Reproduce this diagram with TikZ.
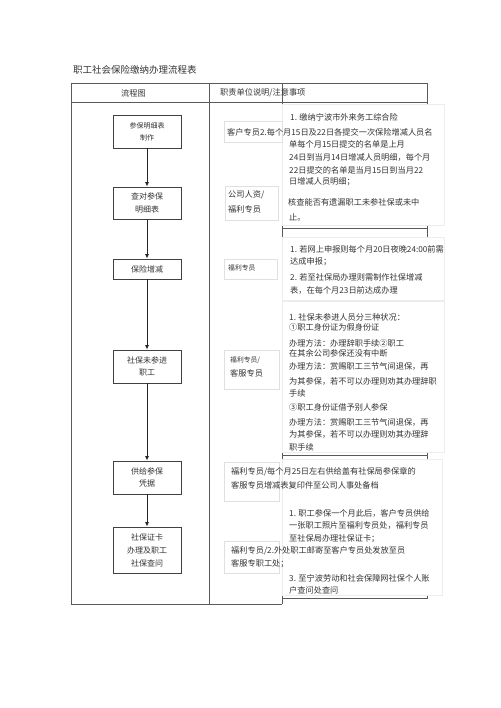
\documentclass[tikz,border=0pt]{standalone}
\usepackage{fontspec}
\setmainfont{Noto Sans CJK SC}
\usetikzlibrary{arrows.meta}
\definecolor{ink}{HTML}{333333}
\definecolor{rule}{HTML}{5A5A5A}
\begin{document}
\begin{tikzpicture}[
    x=1pt, y=-1pt,
    every node/.style={text=ink},
    flowbox/.style={rectangle, draw=black!75, line width=0.8pt, fill=white, minimum width=68pt, align=center, font=\fontsize{8}{12.5}\selectfont},
    rolebox/.style={rectangle, draw=black!12, line width=0.6pt, fill=white, inner sep=0},
    notebox/.style={rectangle, draw=black!7, line width=0.6pt, fill=white, inner sep=0},
    txt/.style={anchor=west, inner sep=0, font=\fontsize{8.2}{12}\selectfont},
    small/.style={anchor=west, inner sep=0, font=\fontsize{6.8}{10}\selectfont},
    arrow/.style={-{Latex[length=4.5pt,width=4pt]}, line width=0.9pt, black!85},
    grid/.style={draw=rule, line width=0.8pt}
]
\useasboundingbox (0,0) rectangle (500,708);

% title and table frame
\node[anchor=west, inner sep=0, font=\fontsize{9.5}{12}\selectfont] (title) at (73,70) {职工社会保险缴纳办理流程表};
\draw[grid] (71,83) -- (427,83);
\draw[grid] (71,102) -- (427,102);
\draw[grid] (71,83) -- (71,604) -- (282,604);
\draw[grid] (209,83) -- (209,604);
\draw[grid] (282,83) -- (282,604);
\draw[grid] (427,83) -- (427,598) -- (282,598);
\draw[grid] (282,228) -- (427,228);
\draw[grid] (282,455) -- (427,455);
\node[txt] (head1) at (121,93) {流程图};
\node[txt] (head2) at (220,93) {职责单位说明/注意事项};

% note boxes (right column)
\node[notebox, minimum width=162pt, minimum height=121pt] (na) at (363,164.5) {};
\node[notebox, minimum width=162pt, minimum height=63pt] (nb) at (363,268.5) {};
\node[notebox, minimum width=162pt, minimum height=151pt] (nc) at (363,376.5) {};
\node[notebox, minimum width=160pt, minimum height=136pt] (ne) at (362,527) {};

% role boxes (middle column)
\node[rolebox, minimum width=58pt, minimum height=21pt] (r1) at (253,131.5) {};
\node[rolebox, minimum width=53pt, minimum height=34pt] (r2) at (251.5,203) {};
\node[rolebox, minimum width=53pt, minimum height=20pt] (r3) at (250.5,269) {};
\node[rolebox, minimum width=55pt, minimum height=39pt] (r4) at (251.5,369.5) {};
\node[rolebox, minimum width=55pt, minimum height=39pt] (r5) at (251.5,481.5) {};
\node[rolebox, minimum width=55pt, minimum height=32pt] (r6) at (251.5,557) {};

% flow chart
\node[flowbox, minimum height=33pt, font=\fontsize{7}{12}\selectfont] (make) at (147,131.5) {参保明细表\\制作};
\node[flowbox, minimum height=32pt] (check) at (147,203) {查对参保\\明细表};
\node[flowbox, minimum height=20pt] (change) at (147,269) {保险增减};
\node[flowbox, minimum height=33pt] (missing) at (147,366.5) {社保未参进\\职工};
\node[flowbox, minimum height=33pt] (proof) at (147,477.5) {供给参保\\凭据};
\node[flowbox, minimum height=46pt, font=\fontsize{8}{13}\selectfont] (card) at (147,550) {社保证卡\\办理及职工\\社保查问};

\draw[arrow] (make) -- (check);
\draw[arrow] (check) -- (change);
\draw[arrow] (change) -- (missing);
\draw[arrow] (missing) -- (proof);
\draw[arrow] (proof) -- (card);

% texts: first row
\node[txt] (a1) at (290,117) {1. 缴纳宁波市外来务工综合险};
\node[txt] (a2) at (227,132) {客户专员2.每个月15日及22日各提交一次保险增减人员名};
\node[txt] (a3) at (289,144) {单每个月15日提交的名单是上月};
\node[txt] (a4) at (289,157) {24日到当月14日增减人员明细，每个月};
\node[txt] (a5) at (289,170) {22日提交的名单是当月15日到当月22};
\node[txt] (a6) at (289,182) {日增减人员明细；};
\node[txt] (a7) at (228,195) {公司人资/};
\node[txt] (a8) at (228,209) {福利专员};
\node[txt] (a9) at (288,202) {核查能否有遗漏职工未参社保或未中};
\node[txt] (a10) at (289,217) {止。};

% second row
\node[small] (b0) at (228,268) {福利专员};
\node[txt] (b1) at (290,249) {1. 若网上申报则每个月20日夜晚24:00前需};
\node[txt] (b2) at (290,262) {达成申报；};
\node[txt] (b3) at (290,277) {2. 若至社保局办理则需制作社保增减};
\node[txt] (b4) at (290,290) {表，在每个月23日前达成办理};

% third row
\node[small] (c0) at (230,360) {福利专员/};
\node[txt] (c00) at (230,373) {客服专员};
\node[txt] (c1) at (289,317) {1. 社保未参进人员分三种状况：};
\node[txt] (c2) at (289,327) {①职工身份证为假身份证};
\node[txt] (c3) at (289,343) {办理方法：办理辞职手续②职工};
\node[txt] (c4) at (289,353) {在其余公司参保还没有中断};
\node[txt] (c5) at (289,366) {办理方法：赏赐职工三节气间退保，再};
\node[txt] (c6) at (289,381) {为其参保，若不可以办理则劝其办理辞职};
\node[txt] (c7) at (289,393) {手续};
\node[txt] (c8) at (289,407) {③职工身份证借予别人参保};
\node[txt] (c9) at (289,422) {办理方法：赏赐职工三节气间退保，再};
\node[txt] (c10) at (289,434) {为其参保，若不可以办理则劝其办理辞};
\node[txt] (c11) at (289,447) {职手续};

% last rows
\node[txt] (d1) at (231,472) {福利专员/每个月25日左右供给盖有社保局参保章的};
\node[txt] (d2) at (231,485) {客服专员增减表复印件至公司人事处备档};
\node[txt] (e1) at (289,513) {1. 职工参保一个月此后，客户专员供给};
\node[txt] (e2) at (289,525) {一张职工照片至福利专员处，福利专员};
\node[txt] (e3) at (289,539) {至社保局办理社保证卡；};
\node[txt] (e4) at (231,551) {福利专员/2.外处职工邮寄至客户专员处发放至员};
\node[txt] (e5) at (231,564) {客服专职工处；};
\node[txt] (e6) at (289,578) {3. 至宁波劳动和社会保障网社保个人账};
\node[txt] (e7) at (289,590) {户查问处查问};

\end{tikzpicture}
\end{document}
